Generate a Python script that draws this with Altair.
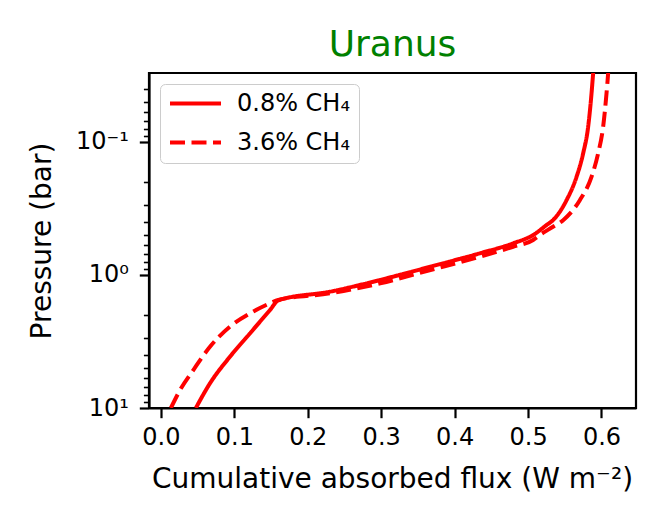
import altair as alt
import pandas as pd

# ---- data ----
series_names = ["0.8% CH₄", "3.6% CH₄"]

solid_flux = [0.0476, 0.0671, 0.0943, 0.1215, 0.1487, 0.160, 0.2306, 0.2987, 0.3671,
              0.4344, 0.4797, 0.5069, 0.525, 0.534, 0.5524, 0.566, 0.575, 0.5818,
              0.5864, 0.5886, 0.590]
solid_pres = [10.0, 6.49, 4.10, 2.74, 1.83, 1.55, 1.334, 1.09, 0.866,
              0.687, 0.578, 0.501, 0.422, 0.387, 0.274, 0.183, 0.122, 0.0772,
              0.0434, 0.0307, 0.025]

dashed_flux = [0.0136, 0.0263, 0.0444, 0.0671, 0.0943, 0.126, 0.1487, 0.160, 0.2306,
               0.2987, 0.3671, 0.4344, 0.4797, 0.5069, 0.516, 0.534, 0.5478, 0.5705,
               0.5864, 0.5954, 0.6022, 0.6068, 0.609, 0.610]
dashed_pres = [10.0, 7.29, 5.16, 3.45, 2.44, 1.88, 1.63, 1.54, 1.373,
               1.155, 0.917, 0.729, 0.613, 0.546, 0.501, 0.434, 0.387, 0.274,
               0.183, 0.122, 0.0772, 0.0434, 0.0307, 0.025]

x_ticks = [0.0, 0.1, 0.2, 0.3, 0.4, 0.5, 0.6]
y_major = [0.1, 1, 10]
y_minor = [0.03, 0.04, 0.05, 0.06, 0.07, 0.08, 0.09,
           0.2, 0.3, 0.4, 0.5, 0.6, 0.7, 0.8, 0.9,
           2, 3, 4, 5, 6, 7, 8, 9]

rows = []
for i, (x, p) in enumerate(zip(solid_flux, solid_pres)):
    rows.append({"series": series_names[0], "flux": x, "p": p, "i": i})
for i, (x, p) in enumerate(zip(dashed_flux, dashed_pres)):
    rows.append({"series": series_names[1], "flux": x, "p": p, "i": i})
df = pd.DataFrame(rows)

FONT = "DejaVu Sans"
x_scale = alt.Scale(domain=[-0.0162, 0.647], nice=False, zero=False)
y_scale = alt.Scale(type="log", domain=[0.0303, 10], reverse=True, nice=False)

legend_kw = dict(title=None, orient="none", legendX=11, legendY=11,
                 symbolType="stroke", symbolSize=2600, symbolStrokeWidth=4,
                 labelFontSize=24, labelFont=FONT, labelColor="black", labelOffset=14,
                 clipHeight=23, rowPadding=14, padding=8,
                 fillColor="white", strokeColor="#cccccc",
                 cornerRadius=5)

lines = alt.Chart(df).mark_line(clip=True, strokeWidth=4, interpolate="monotone").encode(
    x=alt.X("flux:Q", scale=x_scale,
            axis=alt.Axis(values=x_ticks, format=".1f", title="Cumulative absorbed flux (W m⁻²)",
                          labelPadding=8,
                          titleX=243, titleY=79, titleBaseline="alphabetic",
                          titleAlign="center", titleAnchor="middle")),
    y=alt.Y("p:Q", scale=y_scale,
            axis=alt.Axis(values=y_major, orient="left", title="Pressure (bar)",
                          labelPadding=11,
                          labelExpr="datum.value == 0.1 ? '10⁻¹' : (datum.value == 1 ? '10⁰' : '10¹')",
                          titleX=-107, titleY=167.5, titleAngle=-90,
                          titleAlign="center", titleBaseline="middle")),
    color=alt.Color("series:N", scale=alt.Scale(domain=series_names, range=["red", "red"]),
                    legend=alt.Legend(**legend_kw)),
    strokeDash=alt.StrokeDash("series:N",
                              scale=alt.Scale(domain=series_names, range=[[1, 0], [15, 6.5]]),
                              legend=alt.Legend(**legend_kw)),
    order="i:Q",
)

minor = alt.Chart(df).mark_line(opacity=0, clip=True).encode(
    x=alt.X("flux:Q", scale=x_scale, axis=None),
    y=alt.Y("p:Q", scale=y_scale,
            axis=alt.Axis(values=y_minor, orient="left", labels=False, title=None,
                          tickSize=5.6, tickWidth=1.6, domain=False)),
    detail="series:N",
)

chart = alt.layer(lines, minor).resolve_axis(
    y="independent", x="independent"
).resolve_scale(y="shared", x="shared").properties(
    width=487, height=335,
    padding={"left": 141, "top": 65, "right": 20, "bottom": 116},
    autosize=alt.AutoSizeParams(type="none"),
    title=alt.TitleParams("Uranus", fontSize=36, color="green", font=FONT, fontWeight="normal",
                          anchor="middle", frame="group", offset=16, dy=35,
                          baseline="alphabetic"),
).configure(font=FONT).configure_view(
    stroke="black", strokeWidth=2.2
).configure_axis(
    domainColor="black", domainWidth=2.2, tickColor="black", tickWidth=2.2, tickSize=9.7,
    labelFont=FONT, labelFontSize=24, labelColor="black",
    titleFont=FONT, titleFontSize=28, titleFontWeight="normal", titleColor="black",
    grid=False,
)

chart.save("out.html", embed_options={"renderer": "svg", "actions": False})
